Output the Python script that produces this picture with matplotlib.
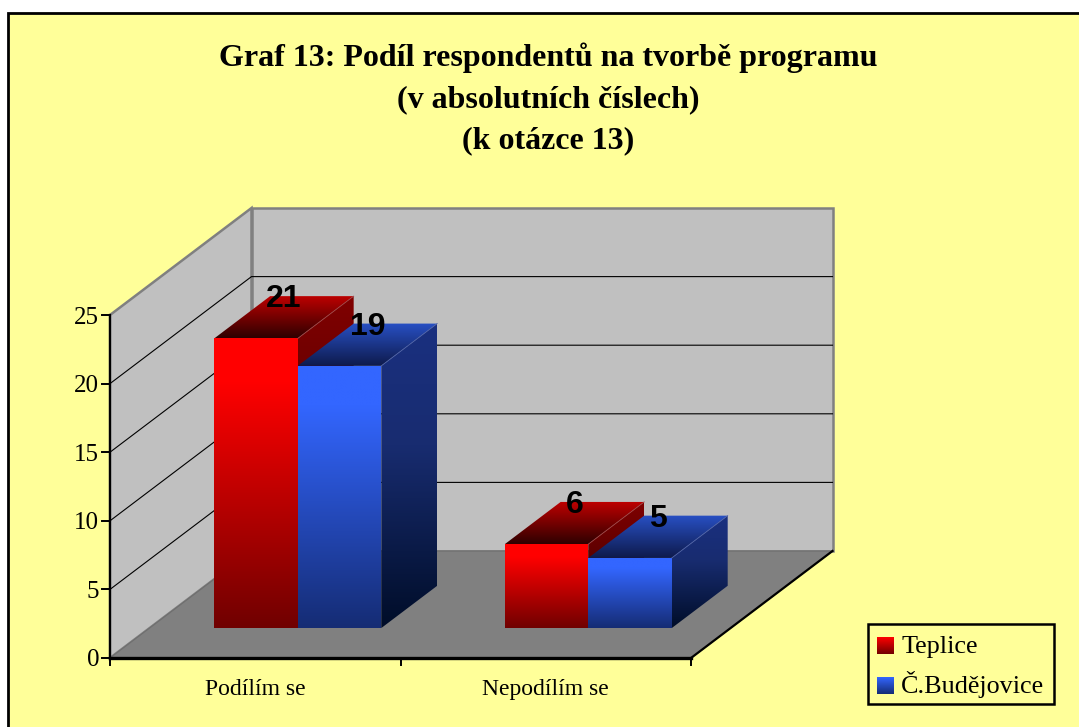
import numpy as np
import matplotlib
matplotlib.use("Agg")
import matplotlib.pyplot as plt
from matplotlib.patches import Polygon, Rectangle

title_lines = ["Graf 13: Podíl respondentů na tvorbě programu", "(v absolutních číslech)", "(k otázce 13)"]
categories = ["Podílím se", "Nepodílím se"]
series_names = ["Teplice", "Č.Budějovice"]
teplice = [21, 6]
budejovice = [19, 5]
y_ticks = [0, 5, 10, 15, 20, 25]
y_max = 25

W, H = 1079, 727
YELLOW = "#FFFF99"
X0, Y0 = 110.0, 658.0      # front-left floor corner
CAT_W = 290.5              # px per category
UNIT = 343.0 / y_max       # px per value
DX, DY = 141.5, 107.0      # full depth offset
BAR_W = 0.2875             # category units per bar
BAR_LIFT = 0.11            # bars render a hair above the wall scale
D_FRONT, D_BACK = 0.28, 0.675
CENTER_SHIFT = 0.01

RED = {"front": [(0, "#FF0000"), (0.15, "#FF0000"), (1, "#700000")],
       "top": [(0, "#C00000"), (1, "#2E0000")],
       "side": [(0, "#800000"), (1, "#300000")],
       "edge": "#A04848"}
BLUE = {"front": [(0, "#3366FF"), (0.15, "#3366FF"), (1, "#152C74")],
        "top": [(0, "#2850C4"), (1, "#0E1A4C")],
        "side": [(0, "#1A3080"), (0.4, "#182C70"), (1, "#000D28")],
        "edge": "#5064A8"}


def P(c, v, d):
    return (X0 + CAT_W * c + DX * d, Y0 - UNIT * v - DY * d)


def rgb(h):
    return np.array(matplotlib.colors.to_rgb(h))


fig = plt.figure(figsize=(W / 100, H / 100), dpi=100, facecolor="white")
ax = fig.add_axes([0, 0, 1, 1])
ax.set_axis_off()
plt.rcParams["font.family"] = ["Liberation Serif"]

z = [5.0]


def grad_poly(pts, stops):
    pts = np.array(pts)
    t = np.linspace(0, 1, 256)
    pos = [s[0] for s in stops]
    cols = np.array([rgb(s[1]) for s in stops])
    img = np.stack([np.interp(t, pos, cols[:, i]) for i in range(3)], axis=1)[:, None, :]
    xa, xb, ya, yb = pts[:, 0].min(), pts[:, 0].max(), pts[:, 1].min(), pts[:, 1].max()
    z[0] += 1
    im = ax.imshow(img, extent=(xa, xb, yb, ya), origin="upper", aspect="auto", zorder=z[0], interpolation="bilinear")
    clip = Polygon(pts, closed=True, transform=ax.transData, facecolor="none", edgecolor="none")
    ax.add_patch(clip)
    im.set_clip_path(clip)
    return im


def bar(c_left, value, style):
    c_right = c_left + BAR_W
    v = value + BAR_LIFT
    side = [P(c_right, v, D_FRONT), P(c_right, v, D_BACK), P(c_right, 0, D_BACK), P(c_right, 0, D_FRONT)]
    top = [P(c_left, v, D_BACK), P(c_right, v, D_BACK), P(c_right, v, D_FRONT), P(c_left, v, D_FRONT)]
    front = [P(c_left, v, D_FRONT), P(c_right, v, D_FRONT), P(c_right, 0, D_FRONT), P(c_left, 0, D_FRONT)]
    grad_poly(side, style["side"])
    grad_poly(top, style["top"])
    grad_poly(front, style["front"])
    a, b = P(c_right, v, D_FRONT), P(c_right, v, D_BACK)
    z[0] += 1
    ax.plot([a[0], b[0]], [a[1], b[1]], color=style["edge"], lw=0.6, zorder=z[0])


# background with top and left frame lines
ax.add_patch(Rectangle((8, 13), W - 8, H - 13, facecolor=YELLOW, edgecolor="none", zorder=0))
ax.plot([8, 8, W], [H, 13, 13], color="black", lw=2.0, zorder=1, solid_joinstyle="miter")

# walls and floor
cmax = float(len(categories))
ax.add_patch(Polygon([P(0, y_max, 1), P(cmax, y_max, 1), P(cmax, 0, 1), P(0, 0, 1)], facecolor="#C0C0C0",
                     edgecolor="#808080", lw=1.8, zorder=2))
ax.add_patch(Polygon([P(0, y_max, 0), P(0, y_max, 1), P(0, 0, 1), P(0, 0, 0)], facecolor="#C0C0C0",
                     edgecolor="#808080", lw=1.8, zorder=2))
ax.add_patch(Polygon([P(0, 0, 0), P(0, 0, 1), P(cmax, 0, 1), P(cmax, 0, 0)], facecolor="#808080",
                     edgecolor="#6E6E6E", lw=0.8, zorder=3))

# gridlines
for v in y_ticks[1:-1]:
    a, b, c = P(0, v, 0), P(0, v, 1), P(cmax, v, 1)
    ax.plot([a[0], b[0], c[0]], [a[1], b[1], c[1]], color="black", lw=0.8, zorder=3)

# axes
a, b = P(0, 0, 0), P(0, y_max, 0)
ax.plot([a[0], b[0]], [a[1], b[1]], color="black", lw=1.6, zorder=4)
a, b, c = P(0, 0, 0), P(cmax, 0, 0), P(cmax, 0, 1)
ax.plot([a[0], b[0]], [a[1], b[1]], color="black", lw=2.4, zorder=4)
ax.plot([b[0], c[0]], [b[1], c[1]], color="black", lw=1.6, zorder=4)
for v in y_ticks:
    p = P(0, v, 0)
    ax.plot([p[0] - 8, p[0]], [p[1], p[1]], color="black", lw=1.4, zorder=4)
    ax.text(p[0] - 11, p[1] + 8.5, str(v), ha="right", va="baseline", fontsize=18, zorder=20)
for i in range(len(categories) + 1):
    p = P(i, 0, 0)
    ax.plot([p[0], p[0]], [p[1], p[1] + 7], color="black", lw=1.4, zorder=4)
for i, name in enumerate(categories):
    p = P(i + 0.5, 0, 0)
    ax.text(p[0], p[1] + 37, name, ha="center", va="baseline", fontsize=17, zorder=20)

# bars and value labels
for i in range(len(categories)):
    c_mid = i + 0.5 + CENTER_SHIFT
    bar(c_mid - BAR_W, teplice[i], RED)
    bar(c_mid, budejovice[i], BLUE)
for i in range(len(categories)):
    c_mid = i + 0.5 + CENTER_SHIFT
    for c_center, v in [(c_mid - BAR_W / 2, teplice[i]), (c_mid + BAR_W / 2, budejovice[i])]:
        x = P(c_center, v, (D_FRONT + D_BACK) / 2)[0]
        y = P(c_center, v + BAR_LIFT, D_BACK)[1]
        ax.text(x, y + 11, str(v), ha="center", va="baseline", fontsize=23, fontweight="bold",
                family="Liberation Sans", zorder=30)

# title
for line, y in zip(title_lines, [66, 107, 148]):
    ax.text(548.5, y, line, ha="center", va="baseline", fontsize=23, fontweight="bold", zorder=20)

# legend
ax.add_patch(Rectangle((868, 623.5), 186, 80.5, facecolor=YELLOW, edgecolor="black", lw=1.8, zorder=20))
for (name, style, yc) in [(series_names[0], RED, 645.5), (series_names[1], BLUE, 685.5)]:
    s = 8.5
    im = grad_poly([(877, yc - s), (894, yc - s), (894, yc + s), (877, yc + s)],
                   [(0, style["front"][0][1]), (1, style["front"][-1][1])])
    im.set_zorder(21)
    ax.text(901, yc + 7.5, name, ha="left", va="baseline", fontsize=18.8, zorder=21)

ax.set_xlim(0, W)
ax.set_ylim(H, 0)
fig.savefig("out.png", dpi=100, facecolor="white")
